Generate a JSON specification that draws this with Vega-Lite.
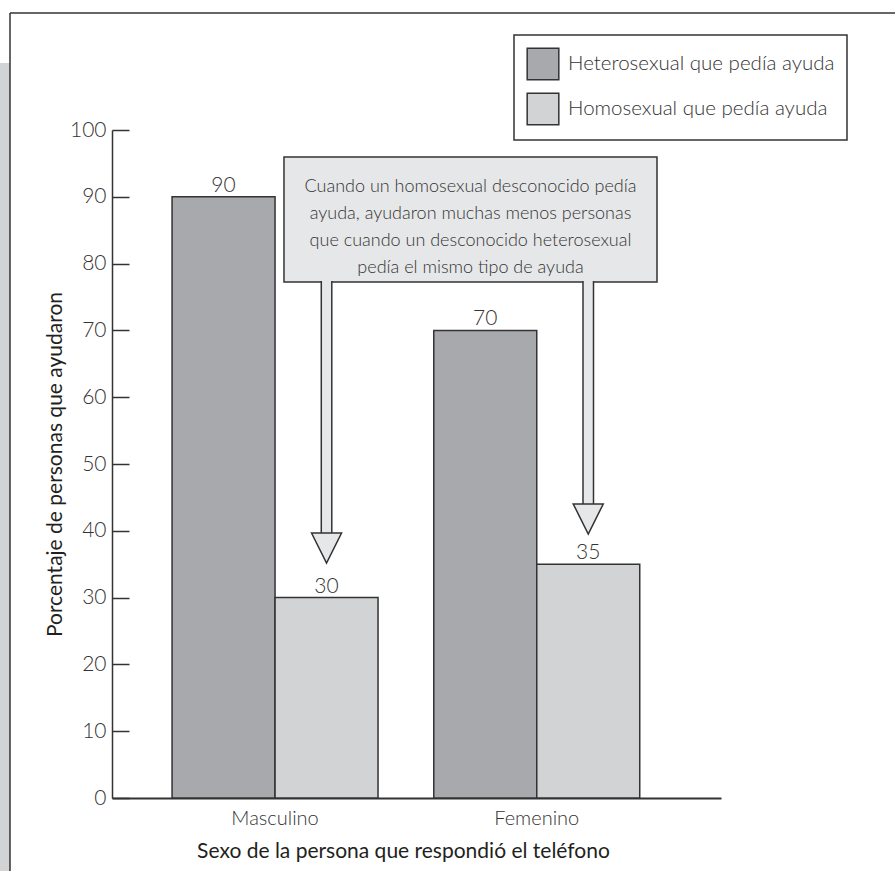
{
  "$schema": "https://vega.github.io/schema/vega-lite/v6.json",
  "width": 609,
  "height": 668,
  "autosize": {"type": "none"},
  "padding": {"left": 112, "top": 130, "right": 174, "bottom": 73},
  "background": "white",
  "config": {
    "view": {"stroke": null},
    "font": "Lato",
    "legend": {
      "orient": "none",
      "legendX": 402,
      "legendY": -95,
      "strokeColor": "#333333",
      "strokeWidth": 1.5,
      "padding": 12,
      "symbolType": "square",
      "symbolSize": 1000,
      "symbolStrokeColor": "#333333",
      "symbolStrokeWidth": 1.5,
      "symbolOpacity": 1,
      "labelFont": "Lato",
      "labelFontSize": 20.5,
      "labelFontWeight": 300,
      "labelColor": "#333333",
      "labelOffset": 8,
      "labelLimit": 500,
      "rowPadding": 7
    }
  },
  "datasets": {
    "ayuda": [
      {"sexo": "Masculino", "grupo": "Heterosexual que pedía ayuda", "porcentaje": 90},
      {"sexo": "Masculino", "grupo": "Homosexual que pedía ayuda", "porcentaje": 30},
      {"sexo": "Femenino", "grupo": "Heterosexual que pedía ayuda", "porcentaje": 70},
      {"sexo": "Femenino", "grupo": "Homosexual que pedía ayuda", "porcentaje": 35}
    ],
    "una": [{}]
  },
  "resolve": {"scale": {"x": "independent"}, "axis": {"x": "independent"}},
  "layer": [
    {
      "data": {"name": "una"},
      "layer": [
        {
          "mark": {"type": "rect", "fill": "#d1d3d4"},
          "encoding": {
            "x": {"datum": -18.39, "type": "quantitative", "scale": {"domain": [0, 100], "nice": false}, "axis": null},
            "x2": {"datum": -16.75},
            "y": {"datum": 110.03, "type": "quantitative", "scale": {"domain": [0, 100], "nice": false}},
            "y2": {"datum": -10.93}
          }
        },
        {
          "mark": {"type": "rule", "stroke": "#333333", "strokeWidth": 1.5},
          "encoding": {
            "x": {"datum": -16.75, "type": "quantitative"},
            "y": {"datum": 117.51, "type": "quantitative"},
            "y2": {"datum": -10.93}
          }
        },
        {
          "mark": {"type": "rule", "stroke": "#333333", "strokeWidth": 1.5},
          "encoding": {
            "x": {"datum": -16.75, "type": "quantitative"},
            "x2": {"datum": 128.57},
            "y": {"datum": 117.51, "type": "quantitative"}
          }
        },
        {
          "mark": {"type": "rect", "fill": "#e6e7e8", "stroke": "#333333", "strokeWidth": 1.5},
          "encoding": {
            "x": {"datum": 28.24, "type": "quantitative"},
            "x2": {"datum": 89.49},
            "y": {"datum": 95.96, "type": "quantitative"},
            "y2": {"datum": 77.25}
          }
        },
        {
          "mark": {
            "type": "text",
            "text": ["Cuando un homosexual desconocido pedía", "ayuda, ayudaron muchas menos personas", "que cuando un desconocido heterosexual", "pedía el mismo tipo de ayuda"],
            "align": "center",
            "baseline": "middle",
            "lineHeight": 27,
            "font": "Lato",
            "fontSize": 18,
            "fontWeight": 300,
            "color": "#333333"
          },
          "encoding": {
            "x": {"datum": 58.87, "type": "quantitative"},
            "y": {"datum": 91.47, "type": "quantitative"}
          }
        }
      ]
    },
    {
      "data": {"name": "ayuda"},
      "layer": [
        {
          "mark": {"type": "bar", "stroke": "#333333", "strokeWidth": 1.5},
          "encoding": {
            "x": {
              "field": "sexo",
              "type": "nominal",
              "scale": {"domain": ["Masculino", "Femenino"], "paddingInner": 0.213, "paddingOuter": 0.27, "align": 0.425},
              "axis": {
                "orient": "bottom",
                "title": "Sexo de la persona que respondió el teléfono",
                "labelAngle": 0,
                "ticks": false,
                "domainColor": "#333333",
                "domainWidth": 2,
                "labelFont": "Lato",
                "labelFontSize": 20,
                "labelFontWeight": 300,
                "labelColor": "#333333",
                "labelPadding": 10,
                "titleFont": "Lato",
                "titleFontSize": 21,
                "titleFontWeight": 400,
                "titleColor": "#231f20",
                "titleX": 291,
                "titleY": 59,
                "titleAlign": "center",
                "titleBaseline": "alphabetic"
              }
            },
            "xOffset": {"field": "grupo", "type": "nominal", "scale": {"domain": ["Heterosexual que pedía ayuda", "Homosexual que pedía ayuda"]}},
            "y": {
              "field": "porcentaje",
              "type": "quantitative",
              "scale": {"domain": [0, 100], "nice": false},
              "axis": {
                "title": "Porcentaje de personas que ayudaron",
                "values": [0, 10, 20, 30, 40, 50, 60, 70, 80, 90, 100],
                "grid": false,
                "domainColor": "#333333",
                "domainWidth": 1.5,
                "tickColor": "#333333",
                "tickWidth": 1.5,
                "tickSize": -17,
                "labelFont": "Lato",
                "labelFontSize": 21,
                "labelFontWeight": 300,
                "labelColor": "#333333",
                "labelPadding": 23,
                "titleFont": "Lato",
                "titleFontSize": 21,
                "titleFontWeight": 400,
                "titleColor": "#231f20",
                "titlePadding": 4
              }
            },
            "fill": {
              "field": "grupo",
              "type": "nominal",
              "scale": {"domain": ["Heterosexual que pedía ayuda", "Homosexual que pedía ayuda"], "range": ["#a7a9ac", "#d1d3d4"]},
              "legend": {"title": null}
            }
          }
        },
        {
          "mark": {"type": "text", "baseline": "alphabetic", "dy": -5, "font": "Lato", "fontSize": 21, "fontWeight": 300, "color": "#333333"},
          "encoding": {
            "x": {"field": "sexo", "type": "nominal"},
            "xOffset": {"field": "grupo", "type": "nominal"},
            "y": {"field": "porcentaje", "type": "quantitative"},
            "text": {"field": "porcentaje", "type": "quantitative"}
          }
        },
        {
          "data": {"name": "una"},
          "layer": [
            {
              "mark": {"type": "rule", "stroke": "#333333", "strokeWidth": 12, "strokeCap": "butt"},
              "encoding": {
                "x": {"datum": "Masculino", "type": "nominal"},
                "xOffset": {"datum": "Homosexual que pedía ayuda", "type": "nominal"},
                "y": {"datum": 77.4, "type": "quantitative"},
                "y2": {"datum": 39.22}
              }
            },
            {
              "mark": {"type": "rule", "stroke": "#e6e7e8", "strokeWidth": 9, "strokeCap": "butt"},
              "encoding": {
                "x": {"datum": "Masculino", "type": "nominal"},
                "xOffset": {"datum": "Homosexual que pedía ayuda", "type": "nominal"},
                "y": {"datum": 77.55, "type": "quantitative"},
                "y2": {"datum": 39.22}
              }
            },
            {
              "mark": {"type": "point", "shape": "M-1,-1L1,-1L0,1Z", "size": 900, "filled": true, "fill": "#e6e7e8", "stroke": "#333333", "strokeWidth": 1.5, "opacity": 1},
              "encoding": {
                "x": {"datum": "Masculino", "type": "nominal"},
                "xOffset": {"datum": "Homosexual que pedía ayuda", "type": "nominal"},
                "y": {"datum": 37.43, "type": "quantitative"}
              }
            },
            {
              "mark": {"type": "rule", "stroke": "#333333", "strokeWidth": 12, "strokeCap": "butt"},
              "encoding": {
                "x": {"datum": "Femenino", "type": "nominal"},
                "xOffset": {"datum": "Homosexual que pedía ayuda", "type": "nominal"},
                "y": {"datum": 77.4, "type": "quantitative"},
                "y2": {"datum": 43.41}
              }
            },
            {
              "mark": {"type": "rule", "stroke": "#e6e7e8", "strokeWidth": 9, "strokeCap": "butt"},
              "encoding": {
                "x": {"datum": "Femenino", "type": "nominal"},
                "xOffset": {"datum": "Homosexual que pedía ayuda", "type": "nominal"},
                "y": {"datum": 77.55, "type": "quantitative"},
                "y2": {"datum": 43.41}
              }
            },
            {
              "mark": {"type": "point", "shape": "M-1,-1L1,-1L0,1Z", "size": 900, "filled": true, "fill": "#e6e7e8", "stroke": "#333333", "strokeWidth": 1.5, "opacity": 1},
              "encoding": {
                "x": {"datum": "Femenino", "type": "nominal"},
                "xOffset": {"datum": "Homosexual que pedía ayuda", "type": "nominal"},
                "y": {"datum": 41.77, "type": "quantitative"}
              }
            }
          ]
        }
      ]
    }
  ]
}
